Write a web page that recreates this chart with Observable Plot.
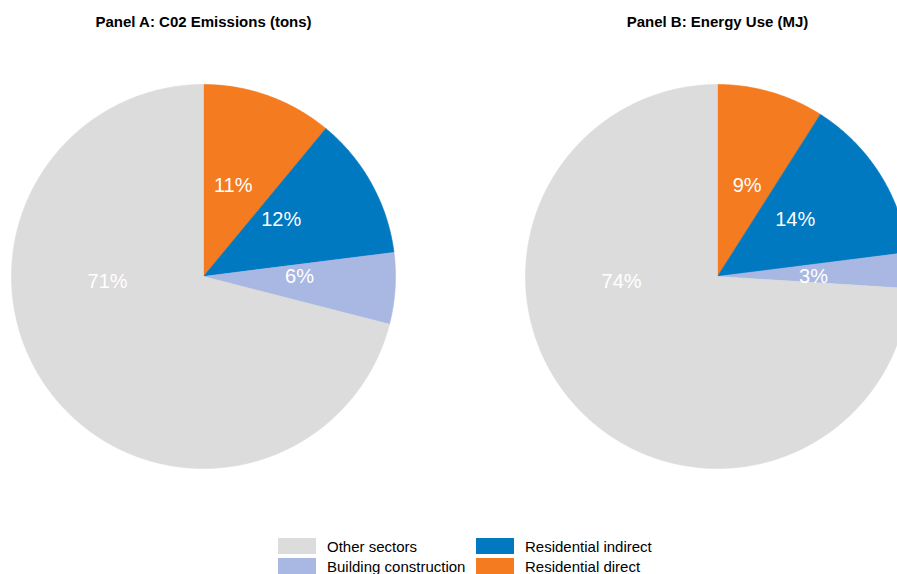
<!DOCTYPE html>
<html>
<head>
<meta charset="utf-8">
<script src="https://cdn.jsdelivr.net/npm/d3@7"></script>
<script src="https://cdn.jsdelivr.net/npm/@observablehq/plot@0.6"></script>
<style>
  html, body { margin: 0; padding: 0; background: #fff; overflow: hidden; }
  body { width: 897px; height: 574px; font-family: "Liberation Sans", Arial, sans-serif; }
  #chart svg { display: block; }
  .legend {
    display: grid;
    grid-auto-flow: column;
    grid-template-rows: repeat(2, 20px);
    grid-template-columns: 198px auto;
    padding-left: 278px;
    margin-top: 6px;
    font-size: 15px;
    line-height: 17px;
    color: #000;
  }
  .legend .item { display: flex; align-items: center; height: 20px; }
  .legend .swatch { width: 38px; height: 16px; margin-right: 11px; flex: none; }
</style>
</head>
<body>
<div id="chart"></div>
<div class="legend" id="legend"></div>
<script>
// Sector shares (%) for each panel, listed clockwise from twelve o'clock
const sectors = ["Residential direct", "Residential indirect", "Building construction", "Other sectors"];
const co2Share = [11, 12, 6, 71];
const energyShare = [9, 14, 3, 74];
const panelTitles = ["Panel A: C02 Emissions (tons)", "Panel B: Energy Use (MJ)"];
const legendOrder = ["Other sectors", "Building construction", "Residential indirect", "Residential direct"];
const sectorColors = ["#F47B20", "#0079C1", "#A8B8E2", "#DCDCDC"];

// Layout: pie radius is one unit on both axes
const W = 897, H = 530, R = 192;
const centerX = [203, 717], centerY = 276, titleY = 22;
const labelRadius = 0.5;
// angular placement of each percentage label, in turns clockwise from the top
const labelTurns = [0.05, 0.15, 0.25, 0.742];

const panels = [co2Share, energyShare];
const offsets = centerX.map(cx => (cx - centerX[0]) / R);

// Wedge outlines: centre, arc sampled every half degree, back to centre
const wedgePoints = [];
const labels = [];
panels.forEach((shares, p) => {
  let start = 0;
  shares.forEach((v, i) => {
    const a0 = start / 100 * 2 * Math.PI;
    const a1 = (start + v) / 100 * 2 * Math.PI;
    start += v;
    const id = p + "-" + i;
    const sector = sectors[i];
    wedgePoints.push({id, sector, x: offsets[p], y: 0});
    const n = Math.max(2, Math.ceil((a1 - a0) / (Math.PI / 360)));
    for (let k = 0; k <= n; ++k) {
      const a = a0 + (a1 - a0) * k / n;
      wedgePoints.push({id, sector, x: offsets[p] + Math.sin(a), y: Math.cos(a)});
    }
    wedgePoints.push({id, sector, x: offsets[p], y: 0});
    const t = labelTurns[i] * 2 * Math.PI;
    labels.push({x: offsets[p] + labelRadius * Math.sin(t), y: labelRadius * Math.cos(t), text: v + "%"});
  });
});

const titles = panelTitles.map((t, p) => ({x: offsets[p], y: (centerY - titleY) / R, text: t}));

const chart = Plot.plot({
  width: W,
  height: H,
  margin: 0,
  style: {fontFamily: "'Liberation Sans', Arial, sans-serif", background: "white"},
  x: {domain: [-centerX[0] / R, (W - centerX[0]) / R], range: [0, W], axis: null},
  y: {domain: [(centerY - H) / R, centerY / R], range: [H, 0], axis: null},
  color: {domain: sectors, range: sectorColors},
  marks: [
    Plot.line(wedgePoints, {x: "x", y: "y", z: "id", fill: "sector", stroke: "sector", strokeWidth: 0.6, curve: "linear"}),
    Plot.text(labels, {x: "x", y: "y", text: "text", fill: "white", fontSize: 20}),
    Plot.text(titles, {x: "x", y: "y", text: "text", fill: "black", fontSize: 15, fontWeight: "bold"})
  ]
});
document.getElementById("chart").append(chart);

// Legend laid out column by column
const colorOf = new Map(sectors.map((s, i) => [s, sectorColors[i]]));
const legend = document.getElementById("legend");
legendOrder.forEach(s => {
  const item = document.createElement("div");
  item.className = "item";
  const sw = document.createElement("span");
  sw.className = "swatch";
  sw.style.background = colorOf.get(s);
  const label = document.createElement("span");
  label.textContent = s;
  item.append(sw, label);
  legend.append(item);
});
</script>
</body>
</html>
